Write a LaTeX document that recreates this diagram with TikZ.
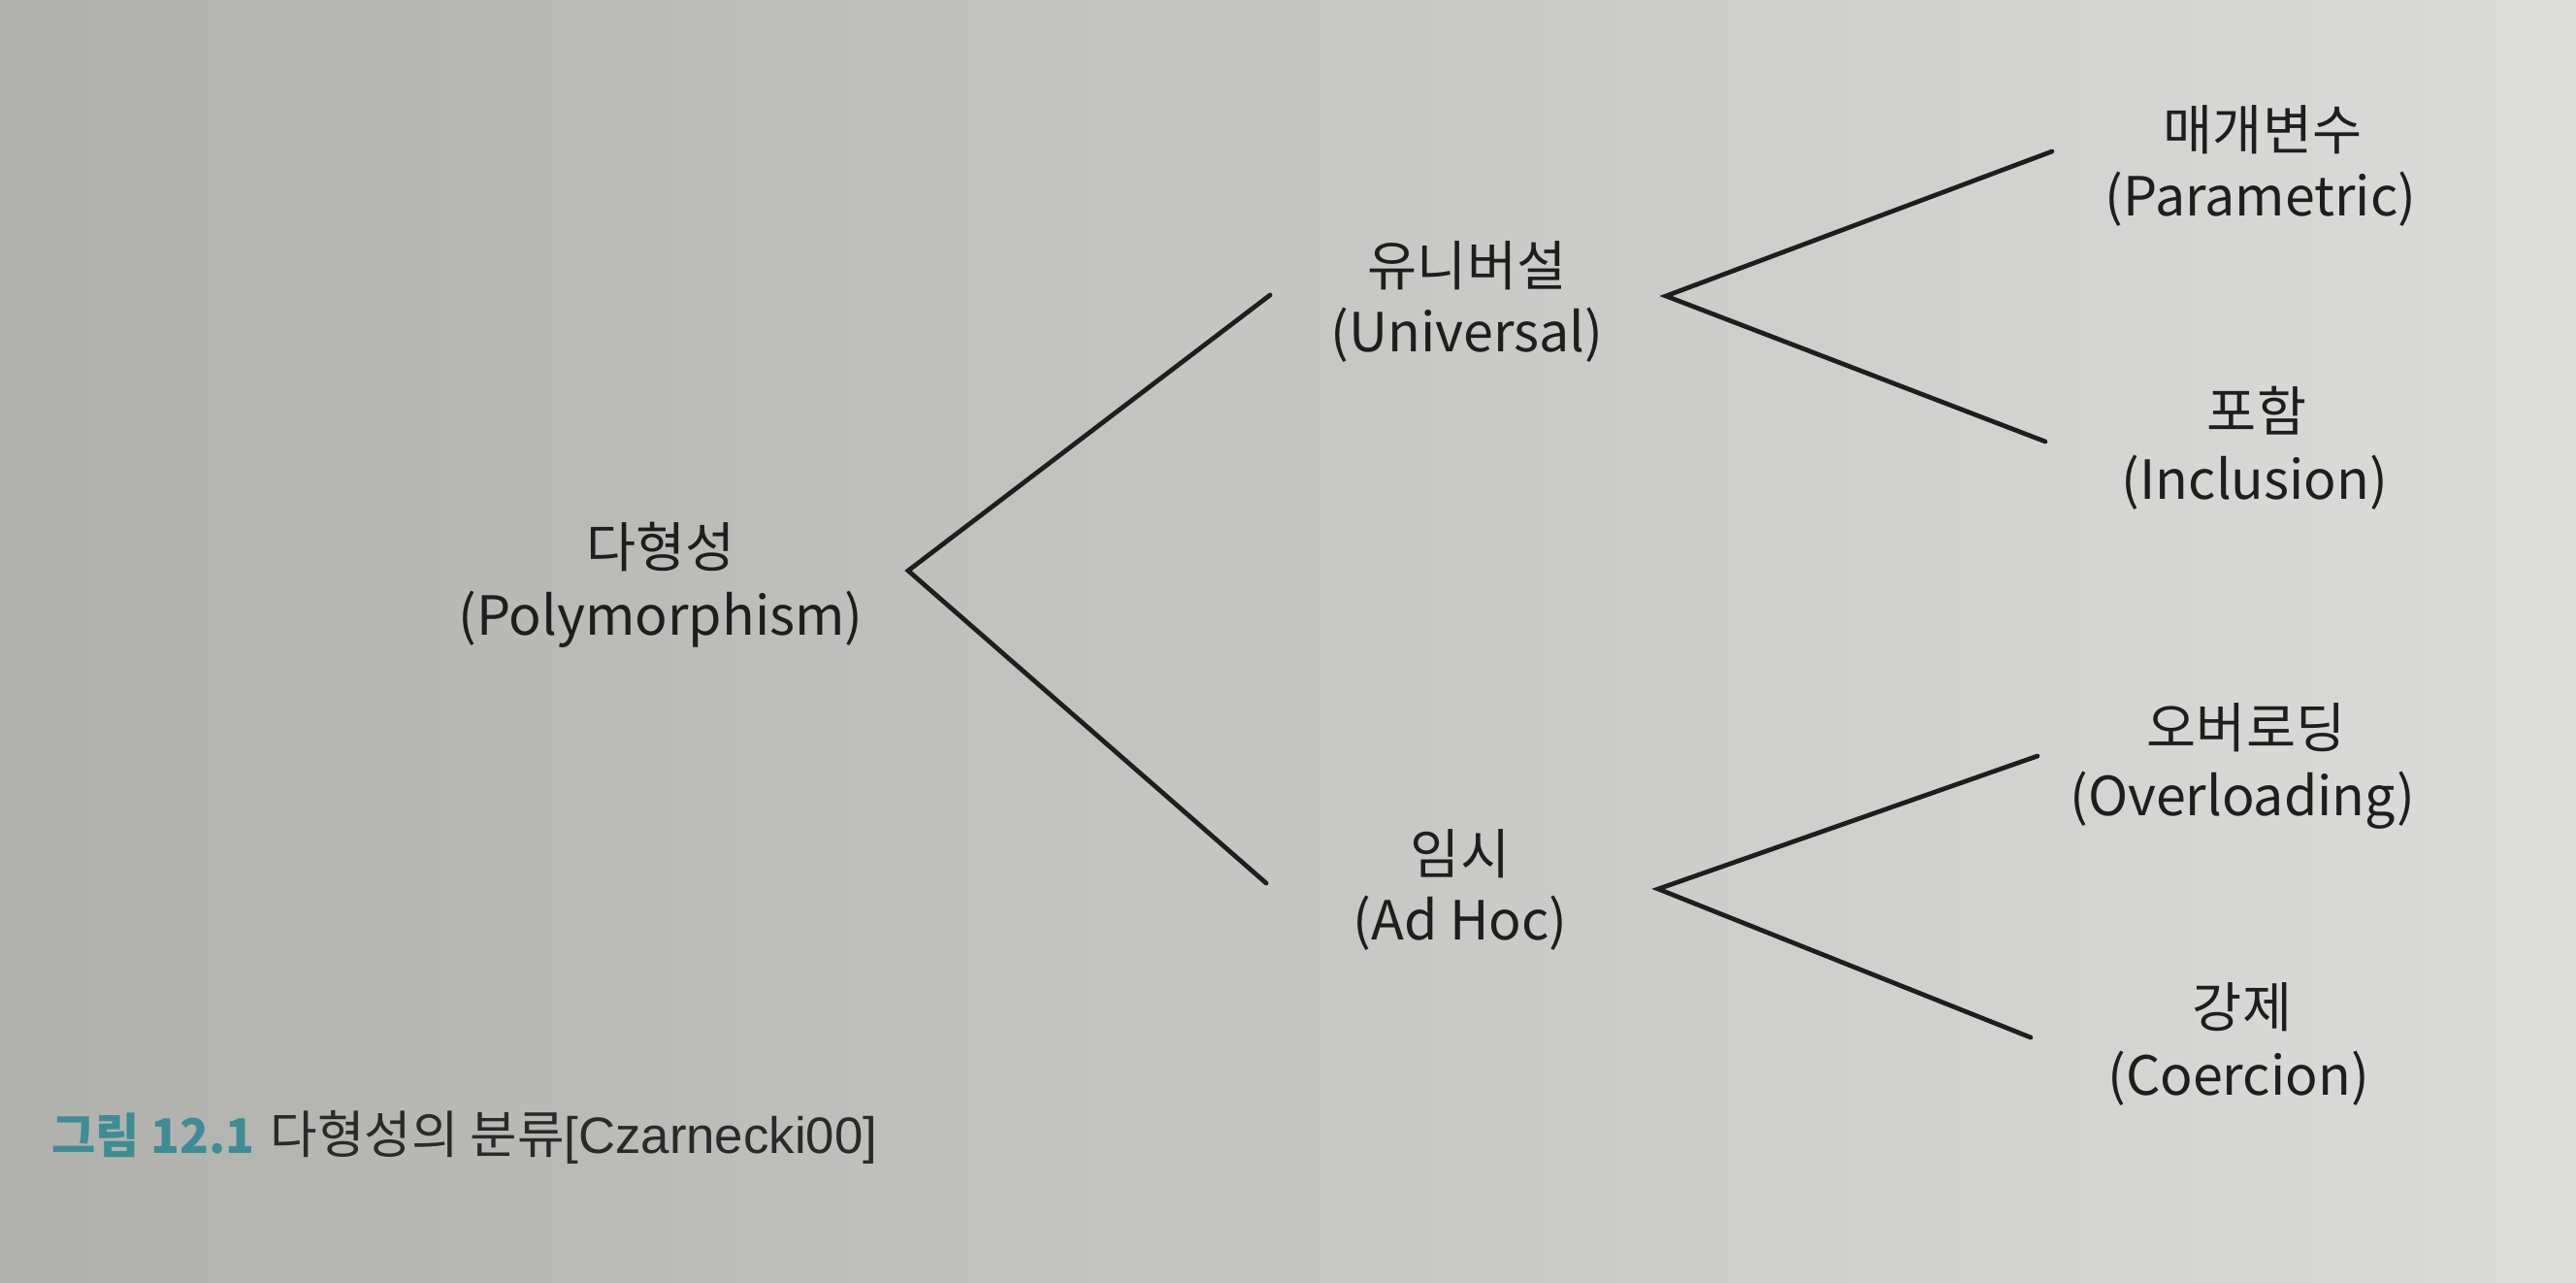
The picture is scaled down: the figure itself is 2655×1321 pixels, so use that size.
\documentclass[tikz,border=0pt]{standalone}
\usepackage{fontspec}
\setmainfont{Noto Sans CJK KR}
\newfontfamily\capLatin{Liberation Sans}
\definecolor{paperL}{HTML}{B0B1AD}
\definecolor{paperM}{HTML}{C8C9C5}
\definecolor{paperR}{HTML}{DCDDDA}
\definecolor{ink}{HTML}{1E1E1E}
\definecolor{capteal}{HTML}{3E8C95}
\definecolor{capink}{HTML}{2A2A2A}
\begin{document}
\begin{tikzpicture}[x=0.01cm,y=-0.01cm,
  txt/.style={inner sep=0pt, anchor=base, text=ink, font=\fontsize{15.8}{19}\selectfont},
  captxt/.style={inner sep=0pt, anchor=base west, text=capink, font=\fontsize{15}{17}\selectfont},
  branch/.style={draw=ink, line width=1.35pt, line cap=round, line join=miter}]
\shade[left color=paperL, middle color=paperM, right color=paperR] (0,0) rectangle (2655,1321);
\useasboundingbox (0,0) rectangle (2655,1321);

% labels
\node[txt] (polyK) at (681,584) {다형성};
\node[txt] (polyL) at (681,654) {(Polymorphism)};
\node[txt] (uniK) at (1512,294) {유니버설};
\node[txt] (uniL) at (1512,362) {(Universal)};
\node[txt] (adhK) at (1505,900) {임시};
\node[txt] (adhL) at (1505,968) {(Ad Hoc)};
\node[txt] (parK) at (2332,154) {매개변수};
\node[txt] (parL) at (2330,222) {(Parametric)};
\node[txt] (incK) at (2326,444) {포함};
\node[txt] (incL) at (2324,514) {(Inclusion)};
\node[txt] (ovlK) at (2315,770) {오버로딩};
\node[txt] (ovlL) at (2311,840) {(Overloading)};
\node[txt] (coeK) at (2311,1058) {강제};
\node[txt] (coeL) at (2307,1128) {(Coercion)};

% branch points and ends
\coordinate (rootV) at (936,588);
\coordinate (uniE) at (1309,304);
\coordinate (adhE) at (1305,910);
\coordinate (uniV) at (1717,305);
\coordinate (parE) at (2115,156);
\coordinate (incE) at (2108,455);
\coordinate (adhV) at (1709,916);
\coordinate (ovlE) at (2100,779);
\coordinate (coeE) at (2093,1069);

\draw[branch] (uniE) -- (rootV) -- (adhE);
\draw[branch] (parE) -- (uniV) -- (incE);
\draw[branch] (ovlE) -- (adhV) -- (coeE);

% caption
\node[captxt] (caption) at (53,1188) {\textcolor{capteal}{\fontsize{14}{16}\selectfont\bfseries 그림 12.1}\hspace{0.3em}다형성의 분류{\capLatin [Czarnecki00]}};
\end{tikzpicture}
\end{document}
